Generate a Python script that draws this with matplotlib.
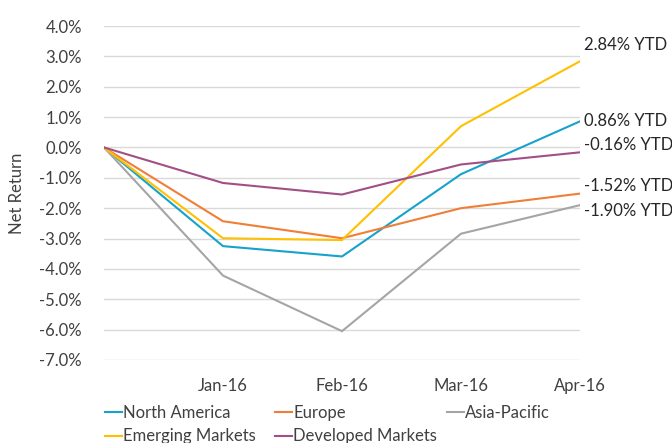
import matplotlib
matplotlib.use("Agg")
import matplotlib.pyplot as plt
from matplotlib.ticker import FuncFormatter

plt.rcParams['font.family'] = ['Lato', 'DejaVu Sans']

categories = ["", "Jan-16", "Feb-16", "Mar-16", "Apr-16"]
north_america = [0.0, -3.25, -3.59, -0.88, 0.86]
europe = [0.0, -2.43, -2.99, -2.00, -1.52]
asia_pacific = [0.0, -4.22, -6.05, -2.84, -1.90]
emerging = [0.0, -2.99, -3.05, 0.70, 2.84]
developed = [0.0, -1.17, -1.55, -0.56, -0.16]

series = [
    ("North America", north_america, "#17A2CB", 0),
    ("Europe", europe, "#F07E36", 8),
    ("Asia-Pacific", asia_pacific, "#A5A5A5", -6),
    ("Emerging Markets", emerging, "#FFC000", 16),
    ("Developed Markets", developed, "#A24F86", 7),
]

FS = 12
TXT = '#404040'

fig = plt.figure(figsize=(6.72, 4.43), dpi=100)
W, H = 672, 443
ax = fig.add_axes([104 / W, 1 - 360 / H, (580 - 104) / W, (360 - 26) / H])

x = list(range(len(categories)))
handles = {}
for name, vals, color, off in series:
    ln, = ax.plot(x, vals, color=color, lw=1.5, label=name, solid_joinstyle='miter')
    handles[name] = ln
    ax.annotate(f"{vals[-1]:.2f}% YTD", xy=(x[-1], vals[-1]), xytext=(3, off * 0.72),
                textcoords='offset points', ha='left', va='center',
                fontsize=FS, color='#262626', annotation_clip=False)

ax.set_xlim(0, 4)
ax.set_ylim(-7, 4)
ax.set_yticks(range(-7, 5))
ax.yaxis.set_major_formatter(FuncFormatter(lambda v, p: f"{v:.1f}%"))
ax.set_xticks(x)
ax.set_xticklabels(categories)
ax.grid(axis='y', color='#D9D9D9', lw=1)
ax.set_axisbelow(True)
for s in ax.spines.values():
    s.set_visible(False)
ax.tick_params(length=0, labelsize=FS, labelcolor=TXT)
ax.tick_params(axis='x', pad=13)
ax.tick_params(axis='y', pad=16)
ax.set_ylabel("Net Return", fontsize=FS, color=TXT, labelpad=10)

columns = [
    (["North America", "Emerging Markets"], 105),
    (["Europe", "Developed Markets"], 275),
    (["Asia-Pacific"], 447),
]
for names, xpix in columns:
    leg = fig.legend([handles[n] for n in names], names, loc='upper left',
                     bbox_to_anchor=(xpix / W, 1 - 405 / H), frameon=False,
                     fontsize=FS, handlelength=1.0, handletextpad=0.1,
                     labelspacing=0.45, borderaxespad=0, borderpad=0)
    for t in leg.get_texts():
        t.set_color(TXT)

fig.savefig("out.png", dpi=100)
